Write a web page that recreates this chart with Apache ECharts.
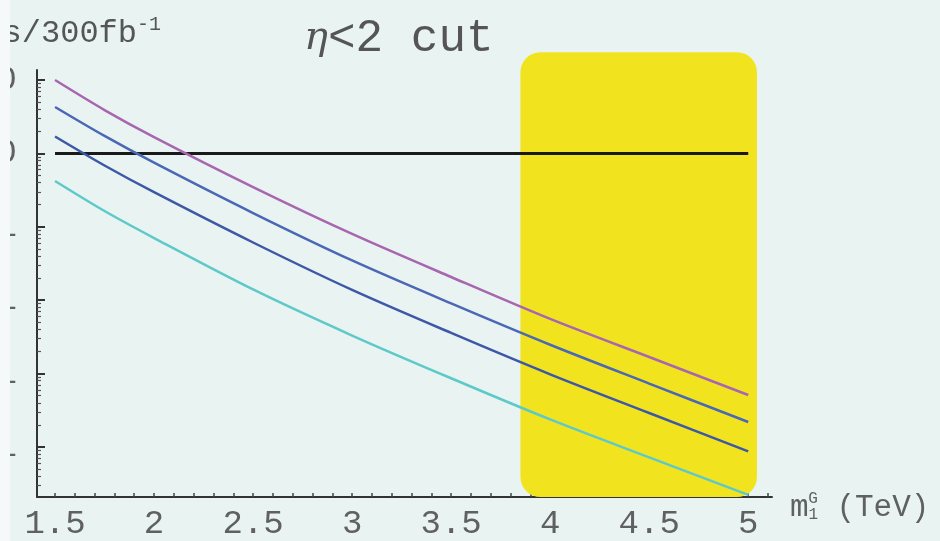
<!DOCTYPE html>
<html>
<head>
<meta charset="utf-8">
<script src="https://cdn.jsdelivr.net/npm/echarts@6/dist/echarts.min.js"></script>
<style>
html,body{margin:0;padding:0;background:#e9f4f2;}
#c{width:940px;height:541px;}
</style>
</head>
<body>
<div id="c"></div>
<script>
// ---- data ----
const massTeV = [1.5, 1.75, 2, 2.5, 3, 3.5, 4, 4.5, 5];
const curvePurple = [100, 39.0, 16.7, 3.48, 0.80, 0.207, 0.0555, 0.0168, 0.0051];
const curveBlue1  = [42.9, 17.3, 7.47, 1.54, 0.348, 0.0904, 0.0247, 0.00731, 0.00219];
const curveBlue2  = [17.0, 6.84, 2.96, 0.611, 0.138, 0.0358, 0.00977, 0.0029, 0.000869];
const curveCyan   = [4.21, 1.64, 0.703, 0.14, 0.033, 0.00863, 0.00237, 0.00072, 0.000222];
const thresholdX = [1.5, 5];
const thresholdY = [10, 10];
const bandX = [3.85, 5.044];
const bandY = [240, 2.08e-4];
const xTickLabels = [1.5, 2, 2.5, 3, 3.5, 4, 4.5, 5];
const xMinorTicks = [1.5,1.6,1.7,1.8,1.9,2,2.1,2.2,2.3,2.4,2.5,2.6,2.7,2.8,2.9,3,3.1,3.2,3.3,3.4,3.5,3.6,3.7,3.8,3.9,4,4.1,4.2,4.3,4.4,4.5,4.6,4.7,4.8,4.9,5,5.1];
const yDecades = [0.001, 0.01, 0.1, 1, 10, 100];
const yDecadeLabels = ['0.001', '0.01', '0.1', '1', '10', '100'];
const yMinorTicks = [3e-4,4e-4,5e-4,6e-4,7e-4,8e-4,9e-4,
  2e-3,3e-3,4e-3,5e-3,6e-3,7e-3,8e-3,9e-3,
  0.02,0.03,0.04,0.05,0.06,0.07,0.08,0.09,
  0.2,0.3,0.4,0.5,0.6,0.7,0.8,0.9,
  2,3,4,5,6,7,8,9,
  20,30,40,50,60,70,80,90];

const X_MIN = 1.409, X_MAX = 5.12, Y_MIN = 2.08e-4, Y_MAX = 137;
const mono = 'Liberation Mono';

function pairs(xs, ys){ return xs.map((x,i)=>[x, ys[i]]); }

const chart = echarts.init(document.getElementById('c'), null, {renderer:'canvas'});
chart.setOption({
  backgroundColor: '#e9f4f2',
  animation: false,
  title: [
    {
      text: '{eta|η}<2 cut',
      left: 299, top: 11,
      textStyle: {
        fontFamily: mono, fontSize: 46, fontWeight: 'normal', color: '#555',
        rich: { eta: { fontFamily: 'DejaVu Serif', fontStyle: 'italic', fontSize: 40, color: '#555' } }
      }
    },
    {
      text: 'Events/300fb{sup|-1}',
      right: 774, top: 10,
      textStyle: {
        fontFamily: mono, fontSize: 32, fontWeight: 'normal', color: '#555',
        rich: { sup: { fontFamily: mono, fontSize: 20, color: '#555', verticalAlign: 'top', padding: [0,0,18,0] } }
      }
    }
  ],
  grid: { left: 37, right: 168, top: 70, bottom: 44, containLabel: false, outerBoundsMode: 'none' },
  xAxis: {
    type: 'value', min: X_MIN, max: X_MAX,
    splitLine: { show: false },
    axisLine: { show: true, onZero: false, lineStyle: { color: '#333', width: 2 } },
    axisTick: { show: true, inside: true, length: 4, customValues: xMinorTicks, lineStyle: { color: '#444', width: 1.5 } },
    axisLabel: {
      customValues: xTickLabels, margin: 10,
      fontFamily: mono, fontSize: 34, color: '#606060',
      formatter: v => String(v)
    },
    name: 'm{sb|1}{sp|G} (TeV)',
    nameLocation: 'end', nameGap: 18,
    nameTextStyle: {
      fontFamily: mono, fontSize: 31, color: '#606060', align: 'left', verticalAlign: 'middle', padding: [22,0,0,0],
      rich: {
        sb: { fontFamily: mono, fontSize: 16, color: '#606060', padding: [14,0,0,0] },
        sp: { fontFamily: mono, fontSize: 16, color: '#606060', padding: [0,0,18,-10] }
      }
    }
  },
  yAxis: [
    {
      type: 'log', logBase: 10, min: Y_MIN, max: Y_MAX,
      splitLine: { show: false },
      axisLine: { show: true, onZero: false, lineStyle: { color: '#333', width: 2 } },
      axisTick: { show: true, inside: true, length: 8, customValues: yDecades, lineStyle: { color: '#333', width: 2 } },
      axisLabel: {
        customValues: yDecades, margin: 20,
        fontFamily: mono, fontSize: 34, color: '#606060',
        formatter: v => { const i = yDecades.findIndex(d => Math.abs(Math.log10(d) - Math.log10(v)) < 1e-6); return i >= 0 ? yDecadeLabels[i] : ''; }
      }
    },
    {
      type: 'log', logBase: 10, min: Y_MIN, max: Y_MAX, position: 'left',
      splitLine: { show: false },
      axisLine: { show: false },
      axisTick: { show: true, inside: true, length: 4, customValues: yMinorTicks, lineStyle: { color: '#555', width: 1.2 } },
      axisLabel: { show: false }
    }
  ],
  series: [
    {
      type: 'custom', name: 'band', clip: false, z: 1,
      data: [[bandX[0], bandX[1], bandY[0], bandY[1]]],
      encode: { x: [0, 1], y: [2, 3] },
      renderItem: (params, api) => {
        const p0 = api.coord([api.value(0), api.value(2)]);
        const p1 = api.coord([api.value(1), api.value(3)]);
        return {
          type: 'rect',
          shape: { x: p0[0], y: p0[1], width: p1[0] - p0[0], height: p1[1] - p0[1], r: 20 },
          style: { fill: '#f1e41e' }
        };
      }
    },
    {
      type: 'line', name: 'threshold', data: pairs(thresholdX, thresholdY), z: 3,
      symbol: 'none', lineStyle: { color: '#1a1a1a', width: 3 }
    },
    { type: 'line', name: 'c1', data: pairs(massTeV, curvePurple), smooth: 0.3, symbol: 'none', z: 4, lineStyle: { color: '#a866b0', width: 2.5 } },
    { type: 'line', name: 'c2', data: pairs(massTeV, curveBlue1), smooth: 0.3, symbol: 'none', z: 4, lineStyle: { color: '#4a68b5', width: 2.5 } },
    { type: 'line', name: 'c3', data: pairs(massTeV, curveBlue2), smooth: 0.3, symbol: 'none', z: 4, lineStyle: { color: '#3c58a6', width: 2.5 } },
    { type: 'line', name: 'c4', data: pairs(massTeV, curveCyan), smooth: 0.3, symbol: 'none', z: 4, lineStyle: { color: '#5ec9c9', width: 2.5 } }
  ],
  graphic: [
    { type: 'rect', left: 0, top: 0, z: 100, shape: { width: 10, height: 541 }, style: { fill: '#f6f9f9' } }
  ]
});
</script>
</body>
</html>
